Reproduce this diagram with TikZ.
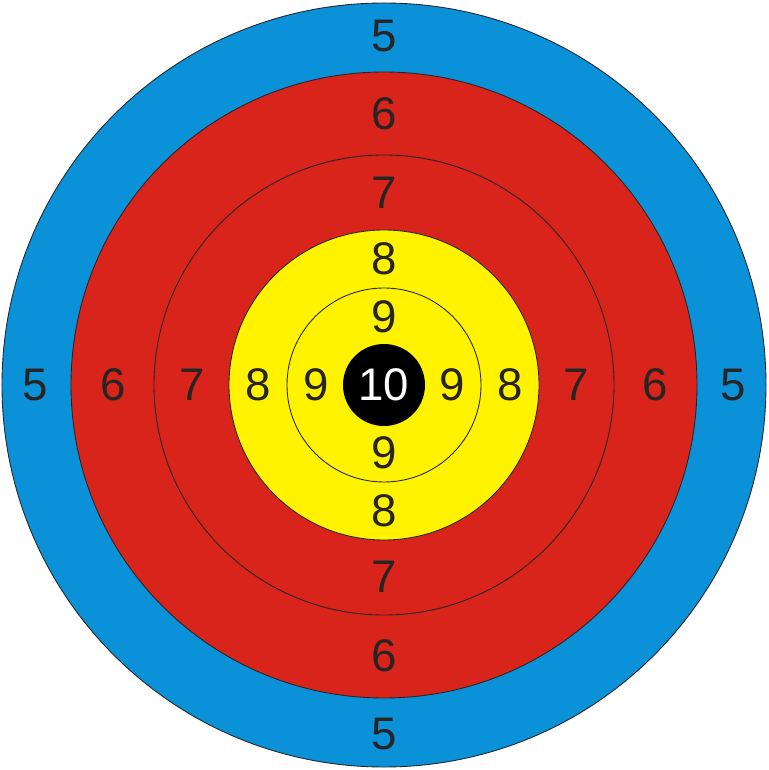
\documentclass[tikz,border=0pt]{standalone}
\usepackage{fontspec}
\setmainfont{Liberation Sans}
\definecolor{ringblue}{RGB}{10,145,216}
\definecolor{ringred}{RGB}{216,36,26}
\definecolor{ringyellow}{RGB}{255,243,0}
\definecolor{digitgray}{RGB}{40,36,36}
\begin{document}
\begin{tikzpicture}[
   x=0.02cm,y=0.02cm,
   ring/.style={draw=black!85,line width=0.5pt},
   score/.style={text=digitgray,inner sep=0pt,font=\fontsize{26}{30}\selectfont},
   every node/.style={anchor=center}
 ]
  \useasboundingbox (-384,-385) rectangle (384,385);
  % rings, outside in
  \fill[ringblue,ring] (0,0) circle (382);
  \fill[ringred,ring] (0,0) circle (313);
  \draw[ring] (0,0) circle (230);
  \fill[ringyellow,ring] (0,0) circle (155);
  \draw[ring] (0,0) circle (97);
  \fill[black] (0,0) circle (41);

  % scores on the four axes
  \foreach \pts/\d in {5/349,6/271,7/192,8/126,9/68}{
    \node[score] (n\pts t) at (0,\d) {\pts};
    \node[score] (n\pts b) at (0,-\d) {\pts};
    \node[score] (n\pts l) at (-\d,0) {\pts};
    \node[score] (n\pts r) at (\d,0) {\pts};
  }
  \node[score,text=white] (n10) at (0,0) {10};
 \end{tikzpicture}
\end{document}
